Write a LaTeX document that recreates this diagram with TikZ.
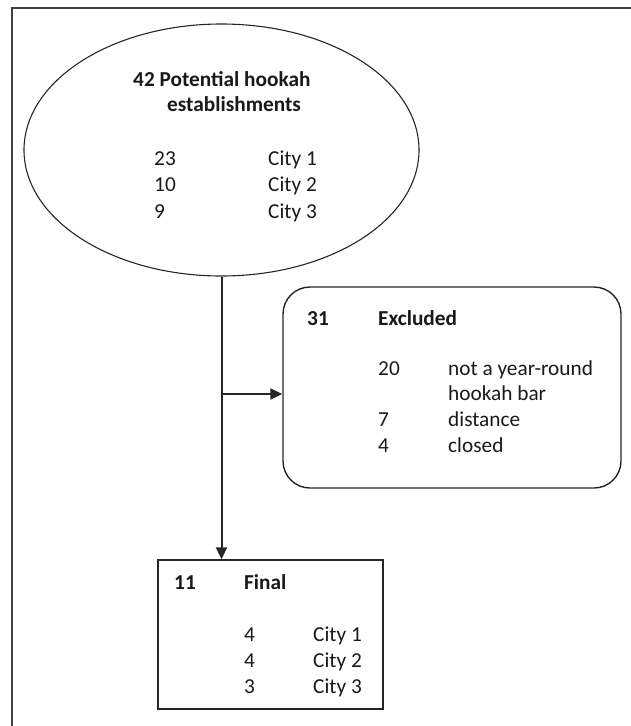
\documentclass[tikz,border=0pt]{standalone}
\usepackage{fontspec}
\setmainfont{Carlito}
\usetikzlibrary{arrows.meta,shapes.geometric}

\begin{document}
\begin{tikzpicture}[x=1pt,y=-1pt,->,>={Triangle[length=12pt,width=11pt]}]
 % styles
 \tikzstyle{every node} = [font=\fontsize{21.3}{26.5}\selectfont,text=black!90,inner sep=0pt];
 \tikzstyle{start} = [ellipse,draw=black!85,line width=1.1pt,minimum width=395pt,minimum height=252pt];
 \tikzstyle{outbox} = [rectangle,rounded corners=27pt,draw=black!85,line width=1.4pt,minimum width=338pt,minimum height=201pt];
 \tikzstyle{finbox} = [rectangle,draw=black!85,line width=1.4pt,minimum width=225pt,minimum height=149pt];
 \tikzstyle{txt} = [anchor=base west];
 \tikzstyle{hd} = [txt,font=\fontsize{21.3}{26.5}\selectfont\bfseries];
 \tikzstyle{edge} = [draw=black!85,line width=2pt];

 \useasboundingbox (0,0) rectangle (631,726);
 \draw[-,black!75,line width=1.8pt] (12,726) -- (12,8) -- (631,8);

 % nodes
 \node[start] (potential) at (221.5,150) {};
 \node[outbox] (excluded) at (452,387.5) {};
 \node[finbox] (final) at (270.5,634.5) {};

 \node[hd] (ptitle) at (133,86.5) {42 Potential hookah};
 \node[hd] (ptitleb) at (167,111.5) {establishments};
 \node[txt] (pn1) at (154,165) {23};
 \node[txt] (pc1) at (268,165) {City 1};
 \node[txt] (pn2) at (154,191.5) {10};
 \node[txt] (pc2) at (268,191.5) {City 2};
 \node[txt] (pn3) at (154,218) {9};
 \node[txt] (pc3) at (268,218) {City 3};

 \node[hd] (xnum) at (307,325) {31};
 \node[hd] (xtitle) at (378,325) {Excluded};
 \node[txt] (xn1) at (378,375) {20};
 \node[txt] (xr1) at (448,375) {not a year-round};
 \node[txt] (xr1b) at (448,400.5) {hookah bar};
 \node[txt] (xn2) at (378,426.5) {7};
 \node[txt] (xr2) at (448,426.5) {distance};
 \node[txt] (xn3) at (378,452.5) {4};
 \node[txt] (xr3) at (448,452.5) {closed};

 \node[hd] (fnum) at (174,589) {11};
 \node[hd] (ftitle) at (244,589) {Final};
 \node[txt] (fn1) at (244,641.5) {4};
 \node[txt] (fc1) at (313,641.5) {City 1};
 \node[txt] (fn2) at (244,667) {4};
 \node[txt] (fc2) at (313,667) {City 2};
 \node[txt] (fn3) at (244,693) {3};
 \node[txt] (fc3) at (313,693) {City 3};

 \coordinate (branch) at (221.5,394);

 % edges
 \path[edge] (potential.south) -- (potential.south |- final.north);
 \path[edge] (branch) -- (branch -| excluded.west);
\end{tikzpicture}
\end{document}
